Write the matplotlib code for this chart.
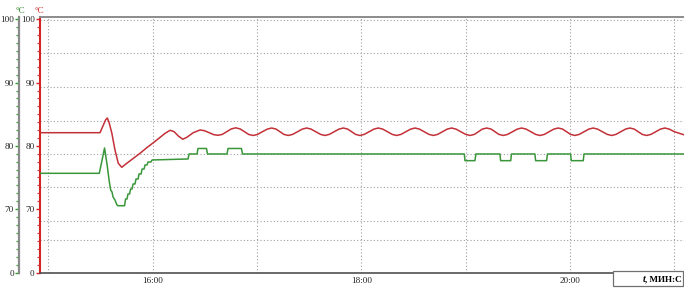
import numpy as np
import matplotlib
matplotlib.use("Agg")
import matplotlib.pyplot as plt
from matplotlib.ticker import FixedLocator, FixedFormatter, NullFormatter
from matplotlib.patches import Rectangle

# time in minutes from midnight, temperature in degC
t_red = [
    895.3, 929.8, 931.7, 933.0, 934.0, 935.0, 936.6, 938.4,
    940.3, 942.3, 945.2, 949.0, 952.8, 956.7, 960.5, 964.3,
    967.2, 970.1, 972.4, 974.8, 977.4, 979.7, 983.4, 987.3,
    989.8, 992.4, 995.0, 997.5, 1000.0, 1002.7, 1005.3, 1007.8,
    1010.3, 1012.8, 1015.3, 1017.8, 1020.3, 1023.1, 1026.0, 1028.5,
    1031.0, 1033.3, 1035.5, 1038.0, 1040.5, 1043.3, 1046.1, 1048.6,
    1051.1, 1053.9, 1056.6, 1059.1, 1061.6, 1064.4, 1067.2, 1069.7,
    1072.2, 1074.5, 1076.7, 1079.2, 1081.7, 1084.5, 1087.3, 1089.8,
    1092.3, 1095.1, 1097.8, 1100.3, 1102.8, 1105.6, 1108.4, 1110.9,
    1113.4, 1116.2, 1118.9, 1121.4, 1123.9, 1126.7, 1129.4, 1131.9,
    1134.4, 1137.2, 1140.0, 1142.5, 1145.0, 1147.3, 1149.6, 1152.1,
    1154.6, 1156.9, 1159.1, 1161.6, 1164.1, 1166.9, 1169.7, 1172.2,
    1174.7, 1177.5, 1180.2, 1182.7, 1185.2, 1188.0, 1190.7, 1193.2,
    1195.7, 1198.0, 1200.3, 1202.8, 1205.3, 1208.1, 1210.8, 1213.3,
    1215.8, 1218.6, 1221.4, 1223.9, 1226.4, 1229.2, 1231.9, 1234.4,
    1236.9, 1239.2, 1241.5, 1244.0, 1246.5, 1249.3, 1252.0, 1254.5,
    1257.0, 1260.0, 1265.5]
temp_red = [
    82.08, 82.08, 83.30, 84.10, 84.41, 83.70, 82.00, 79.34,
    77.24, 76.60, 77.24, 78.03, 78.82, 79.71, 80.50, 81.35,
    81.98, 82.46, 82.24, 81.56, 81.04, 81.35, 82.08, 82.51,
    82.40, 82.10, 81.78, 81.67, 81.80, 82.25, 82.68, 82.85,
    82.68, 82.23, 81.80, 81.64, 81.80, 82.23, 82.65, 82.82,
    82.65, 82.23, 81.81, 81.64, 81.81, 82.23, 82.65, 82.82,
    82.65, 82.23, 81.81, 81.64, 81.81, 82.23, 82.65, 82.82,
    82.65, 82.23, 81.81, 81.64, 81.81, 82.23, 82.65, 82.82,
    82.65, 82.23, 81.81, 81.64, 81.81, 82.23, 82.65, 82.82,
    82.65, 82.23, 81.81, 81.64, 81.81, 82.23, 82.65, 82.82,
    82.65, 82.23, 81.81, 81.64, 81.81, 82.23, 82.65, 82.82,
    82.65, 82.23, 81.81, 81.64, 81.81, 82.23, 82.65, 82.82,
    82.65, 82.23, 81.81, 81.64, 81.81, 82.23, 82.65, 82.82,
    82.65, 82.23, 81.81, 81.64, 81.81, 82.23, 82.65, 82.82,
    82.65, 82.23, 81.81, 81.64, 81.81, 82.23, 82.65, 82.82,
    82.65, 82.23, 81.81, 81.64, 81.81, 82.23, 82.65, 82.82,
    82.65, 82.23, 81.75]

t_green = [
    895.3, 929.4, 931.0, 932.4, 933.9, 935.0, 935.9, 936.7,
    937.3, 938.4, 939.3, 939.9, 943.9, 944.5, 945.3, 945.9,
    946.8, 947.4, 948.2, 948.8, 949.9, 950.5, 951.7, 952.2,
    953.4, 954.0, 955.1, 955.7, 956.8, 957.4, 959.1, 959.7,
    980.4, 981.0, 985.6, 986.1, 991.0, 991.6, 1002.8, 1003.4,
    1011.1, 1011.7, 1139.2, 1139.6, 1145.3, 1145.9, 1159.7, 1160.1,
    1165.9, 1166.3, 1179.8, 1180.2, 1186.5, 1187.0, 1200.3, 1200.7,
    1207.6, 1208.0, 1265.9]
temp_green = [
    75.65, 75.65, 77.76, 79.66, 76.97, 74.59, 73.01, 72.69,
    71.90, 71.43, 70.79, 70.52, 70.52, 71.58, 71.58, 72.38,
    72.38, 73.17, 73.17, 73.96, 73.96, 74.75, 74.75, 75.54,
    75.54, 76.33, 76.33, 76.97, 76.97, 77.44, 77.44, 77.76,
    77.92, 78.71, 78.71, 79.58, 79.58, 78.71, 78.71, 79.58,
    79.58, 78.71, 78.71, 77.65, 77.65, 78.71, 78.71, 77.65,
    77.65, 78.71, 78.71, 77.65, 77.65, 78.71, 78.71, 77.65,
    77.65, 78.71, 78.71]

hour_ticks = [960, 1080, 1200]
hour_labels = ["16:00", "18:00", "20:00"]
hour_grid = [900, 1020, 1140, 1260]
y_ticks = [0, 70, 80, 90, 100]
y_labels = ["0", "70", "80", "90", "100"]


# axis is squeezed below 70: 0..70 takes 64 px, 70..100 takes ~190 px
def fwd(v):
    v = np.asarray(v, dtype=float)
    return np.where(v <= 70, v * 64 / 70, 64 + (v - 70) * 6.317)


def inv(u):
    u = np.asarray(u, dtype=float)
    return np.where(u <= 64, u * 70 / 64, 70 + (u - 64) / 6.317)


plt.rcParams['font.family'] = ['Liberation Serif', 'DejaVu Serif']

fig = plt.figure(figsize=(6.84, 2.90), dpi=100)
ax = fig.add_axes([40 / 684, 17 / 290, 644 / 684, 256 / 290])
ax2 = ax.twinx()

ytop = float(inv(256))
minor_y = [8.75 * k for k in range(1, 8)] + [70 + 1.25 * k for k in range(1, 24) if k % 8]

for a in (ax, ax2):
    a.set_yscale('function', functions=(fwd, inv))
    a.set_ylim(0, ytop)
    a.yaxis.set_major_locator(FixedLocator(y_ticks))
    a.yaxis.set_major_formatter(FixedFormatter(y_labels))
    a.yaxis.set_minor_locator(FixedLocator(minor_y))
    a.yaxis.set_minor_formatter(NullFormatter())

ax.set_xlim(895.3, 1265.5)
ax.set_xticks(hour_ticks)
ax.set_xticklabels(hour_labels)
ax.set_xticks(hour_grid, minor=True)
ax.tick_params(axis='x', which='both', length=0, labelsize=6.6, pad=3, labelcolor='#222222')
ax.grid(axis='x', which='both', color='#a0a0a0', linestyle=(0, (1, 2)), linewidth=0.8)

# horizontal grid of the recorder (fixed pixel rows)
for yf in [0.988, 0.859, 0.727, 0.594, 0.465, 0.336, 0.203, 0.129]:
    ax.plot([0, 1], [yf, yf], transform=ax.transAxes, color='#a0a0a0',
            linestyle=(0, (1, 2)), linewidth=0.8, zorder=0.5)

ax.plot(t_red, temp_red, color='#c33038', linewidth=1.1, zorder=3)
ax.plot(t_green, temp_green, color='#3a963a', linewidth=1.1, zorder=3)

# red scale (inner)
ax.spines['left'].set_color('#d42424')
ax.spines['left'].set_linewidth(1.5)
ax.spines['right'].set_visible(False)
ax.spines['top'].set_color('#8c8c8c')
ax.spines['top'].set_linewidth(1.4)
ax.spines['bottom'].set_color('#505050')
ax.spines['bottom'].set_linewidth(1.2)
ax.tick_params(axis='y', which='major', color='#d42424', length=3, width=1,
               labelsize=6.6, pad=0.8, labelcolor='#222222')
ax.tick_params(axis='y', which='minor', color='#e04040', length=2, width=0.9)

# green scale (outer)
for s in ('top', 'bottom', 'right'):
    ax2.spines[s].set_visible(False)
ax2.spines['left'].set_visible(True)
ax2.spines['left'].set_position(('outward', 15))
ax2.spines['left'].set_color('#8a8a8a')
ax2.spines['left'].set_linewidth(1.6)
ax2.yaxis.set_ticks_position('left')
ax2.yaxis.set_label_position('left')
ax2.tick_params(axis='y', which='major', color='#2aa02a', length=3, width=1,
                labelsize=6.6, pad=0.8, labelcolor='#222222')
ax2.tick_params(axis='y', which='minor', color='#2aa02a', length=2, width=0.9)

fig.text(20 / 684, 1 - 11 / 290, "°C", color='#2a8a2a', fontsize=6.5, ha='center', va='center')
fig.text(39 / 684, 1 - 11 / 290, "°C", color='#cc2222', fontsize=6.5, ha='center', va='center')

# axis name box in the lower right corner
fig.patches.append(Rectangle((613 / 684, 1 - 286 / 290), 70 / 684, 15 / 290,
                             transform=fig.transFigure, facecolor='white',
                             edgecolor='#707070', linewidth=0.9, zorder=5))
unit = fig.text(682 / 684, 1 - 279 / 290, ", МИН:С", fontsize=6.6, weight='bold',
                ha='right', va='center', zorder=6)
fig.canvas.draw()
x0 = unit.get_window_extent().x0 / fig.bbox.width
fig.text(x0, 1 - 279 / 290, "t", fontsize=7.2, style='italic', weight='bold',
         ha='right', va='center', zorder=6)

fig.savefig("out.png", dpi=100)
